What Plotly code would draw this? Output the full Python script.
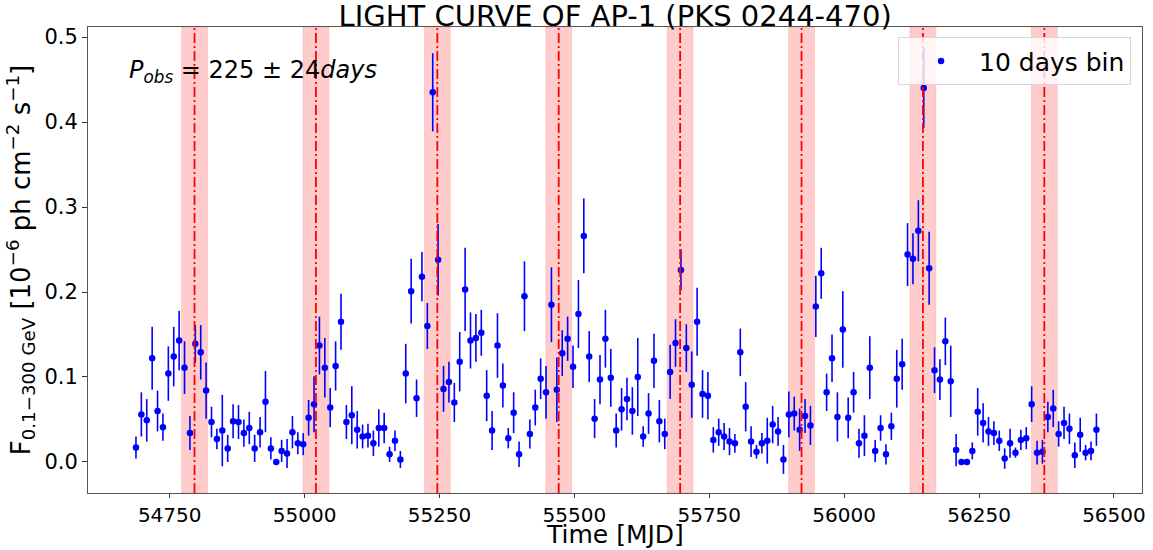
import plotly.graph_objects as go

# 10-day binned gamma-ray light curve of AP-1 (PKS 0244-470)
T_START = 54687.5          # MJD of the first bin
BIN_DAYS = 10.0

flux = [
    0.017, 0.056, 0.049, 0.122, 0.060, 0.041, 0.104, 0.124, 0.143, 0.111,
    0.034, 0.139, 0.129, 0.084, 0.047, 0.027, 0.037, 0.016, 0.048, 0.047,
    0.034, 0.040, 0.016, 0.035, 0.071, 0.016, 0.000, 0.013, 0.010, 0.035,
    0.022, 0.021, 0.052, 0.068, 0.137, 0.111, 0.064, 0.113, 0.165, 0.047,
    0.055, 0.038, 0.030, 0.031, 0.022, 0.040, 0.040, 0.009, 0.025, 0.003,
    0.104, 0.201, 0.075, 0.218, 0.160, 0.435, 0.238, 0.086, 0.094, 0.070,
    0.118, 0.203, 0.143, 0.146, 0.152, 0.078, 0.037, 0.137, 0.090, 0.028,
    0.058, 0.009, 0.195, 0.033, 0.064, 0.098, 0.082, 0.185, 0.085, 0.128,
    0.145, 0.112, 0.174, 0.266, 0.124, 0.051, 0.097, 0.145, 0.099, 0.037,
    0.062, 0.074, 0.060, 0.100, 0.030, 0.057, 0.119, 0.048, 0.033, 0.106,
    0.140, 0.226, 0.134, 0.091, 0.165, 0.080, 0.078, 0.026, 0.035, 0.030,
    0.024, 0.022, 0.129, 0.065, 0.024, 0.012, 0.022, 0.025, 0.044, 0.036,
    0.003, 0.056, 0.057, 0.038, 0.054, 0.043, 0.183, 0.222, 0.082, 0.122,
    0.053, 0.156, 0.052, 0.082, 0.022, 0.031, 0.111, 0.013, 0.040, 0.009,
    0.042, 0.098, 0.115, 0.244, 0.239, 0.272, 0.440, 0.228, 0.108, 0.097,
    0.142, 0.095, 0.014, 0.000, 0.000, 0.013, 0.059, 0.046, 0.036, 0.034,
    0.025, 0.004, 0.022, 0.011, 0.026, 0.028, 0.068, 0.011, 0.012, 0.053,
    0.063, 0.033, 0.046, 0.039, 0.008, 0.032, 0.011, 0.013, 0.038,
]

flux_err = [
    0.013, 0.026, 0.025, 0.037, 0.024, 0.016, 0.032, 0.035, 0.035, 0.031,
    0.020, 0.022, 0.032, 0.033, 0.018, 0.012, 0.042, 0.016, 0.020, 0.020,
    0.016, 0.019, 0.016, 0.018, 0.036, 0.013, 0.002, 0.013, 0.017, 0.019,
    0.013, 0.013, 0.021, 0.033, 0.034, 0.035, 0.023, 0.029, 0.033, 0.020,
    0.034, 0.022, 0.014, 0.014, 0.015, 0.022, 0.018, 0.009, 0.012, 0.010,
    0.035, 0.038, 0.022, 0.029, 0.027, 0.046, 0.042, 0.027, 0.024, 0.023,
    0.035, 0.049, 0.033, 0.028, 0.027, 0.030, 0.023, 0.038, 0.026, 0.012,
    0.024, 0.015, 0.041, 0.017, 0.021, 0.024, 0.031, 0.044, 0.038, 0.027,
    0.026, 0.025, 0.040, 0.044, 0.030, 0.023, 0.029, 0.034, 0.034, 0.020,
    0.025, 0.025, 0.028, 0.046, 0.012, 0.024, 0.032, 0.025, 0.018, 0.032,
    0.028, 0.024, 0.028, 0.039, 0.040, 0.028, 0.028, 0.015, 0.016, 0.016,
    0.016, 0.011, 0.028, 0.029, 0.018, 0.008, 0.012, 0.027, 0.022, 0.017,
    0.017, 0.027, 0.020, 0.025, 0.020, 0.023, 0.036, 0.030, 0.022, 0.028,
    0.029, 0.045, 0.024, 0.024, 0.017, 0.024, 0.037, 0.013, 0.015, 0.012,
    0.016, 0.034, 0.030, 0.037, 0.030, 0.036, 0.047, 0.043, 0.027, 0.024,
    0.028, 0.042, 0.019, 0.002, 0.002, 0.010, 0.028, 0.023, 0.017, 0.014,
    0.012, 0.012, 0.017, 0.006, 0.012, 0.013, 0.021, 0.014, 0.014, 0.018,
    0.022, 0.015, 0.019, 0.018, 0.015, 0.020, 0.009, 0.011, 0.019,
]

# Expected flare epochs from the observed period P = 225 +/- 24 d
PERIOD = 225
PERIOD_ERR = 24
peak_mjd = [54796, 55021, 55246, 55471, 55696, 55921, 56146, 56371]

x_ticks = [54750, 55000, 55250, 55500, 55750, 56000, 56250, 56500]
x_tick_text = ["54750", "55000", "55250", "55500", "55750", "56000", "56250", "56500"]
y_ticks = [0.0, 0.1, 0.2, 0.3, 0.4, 0.5]
y_tick_text = ["0.0", "0.1", "0.2", "0.3", "0.4", "0.5"]

mjd = [T_START + BIN_DAYS * i for i in range(len(flux))]

FONT = "DejaVu Sans"
BLUE = "#0000ff"

fig = go.Figure()

fig.add_trace(go.Scatter(
    x=mjd, y=flux,
    mode="markers",
    name="10 days bin",
    marker=dict(color=BLUE, size=6.5, line=dict(width=0)),
    error_y=dict(type="data", array=flux_err, color=BLUE,
                 thickness=1.6, width=0),
))

shapes = []
for t in peak_mjd:
    # uncertainty band on each predicted epoch
    shapes.append(dict(
        type="rect", xref="x", yref="paper",
        x0=t - PERIOD_ERR, x1=t + PERIOD_ERR, y0=0, y1=1,
        fillcolor="rgba(255,0,0,0.2)",
        line=dict(color="rgba(255,0,0,0.12)", width=1),
        layer="below",
    ))
    # predicted epoch itself
    shapes.append(dict(
        type="line", xref="x", yref="paper",
        x0=t, x1=t, y0=0, y1=1,
        line=dict(color="#ff0000", width=1.8, dash="10px,3px,2px,3px"),
        layer="above",
    ))

fig.update_layout(
    width=1153, height=550,
    margin=dict(l=88, r=11, t=27, b=57),
    paper_bgcolor="white", plot_bgcolor="white",
    font=dict(family=FONT, color="black"),
    shapes=shapes,
    showlegend=True,
    title=dict(
        text="LIGHT CURVE OF AP-1 (PKS 0244-470)",
        font=dict(family=FONT, size=29, color="black"),
        x=0.5335, xanchor="center", xref="container",
        y=0.972, yanchor="middle", yref="container",
    ),
    legend=dict(
        x=0.9896, xanchor="right", y=0.978, yanchor="top",
        bgcolor="rgba(255,255,255,0.8)",
        bordercolor="rgb(215,215,215)", borderwidth=1,
        font=dict(family=FONT, size=25, color="black"),
        itemwidth=66, indentation=4,
    ),
    annotations=[
        dict(
            text="<i>P</i><sub><i>obs</i></sub> = 225 ± 24<i>days</i>",
            xref="paper", yref="paper", x=0.037, y=0.904,
            xanchor="left", yanchor="middle", showarrow=False,
            font=dict(family=FONT, size=24, color="black"),
        ),
        # x-axis title, placed just under the tick labels
        dict(
            text="Time [MJD]",
            xref="paper", yref="paper", x=0.5, y=-0.089,
            xanchor="center", yanchor="middle", showarrow=False,
            font=dict(family=FONT, size=25, color="black"),
        ),
    ],
)

fig.update_xaxes(
    range=[54598.6, 56552],
    tickvals=x_ticks, ticktext=x_tick_text,
    ticks="outside", ticklen=4, tickwidth=1, tickcolor="#333",
    tickfont=dict(family=FONT, size=20),
    showline=True, linecolor="#555", linewidth=1, mirror=True,
    showgrid=False, zeroline=False, automargin=False,
)

fig.update_yaxes(
    range=[-0.0365, 0.5118],
    tickvals=y_ticks, ticktext=y_tick_text,
    ticks="outside", ticklen=5, tickwidth=1, tickcolor="#333",
    tickfont=dict(family=FONT, size=21),
    showline=True, linecolor="#555", linewidth=1, mirror=True,
    showgrid=False, zeroline=False, automargin=False,
    title=dict(
        text="F<sub>0.1−300 GeV</sub> [10<sup>−6</sup> ph cm<sup>−2</sup> s<sup>−1</sup>]",
        font=dict(family=FONT, size=26), standoff=6,
    ),
)

fig.write_html("out.html")
